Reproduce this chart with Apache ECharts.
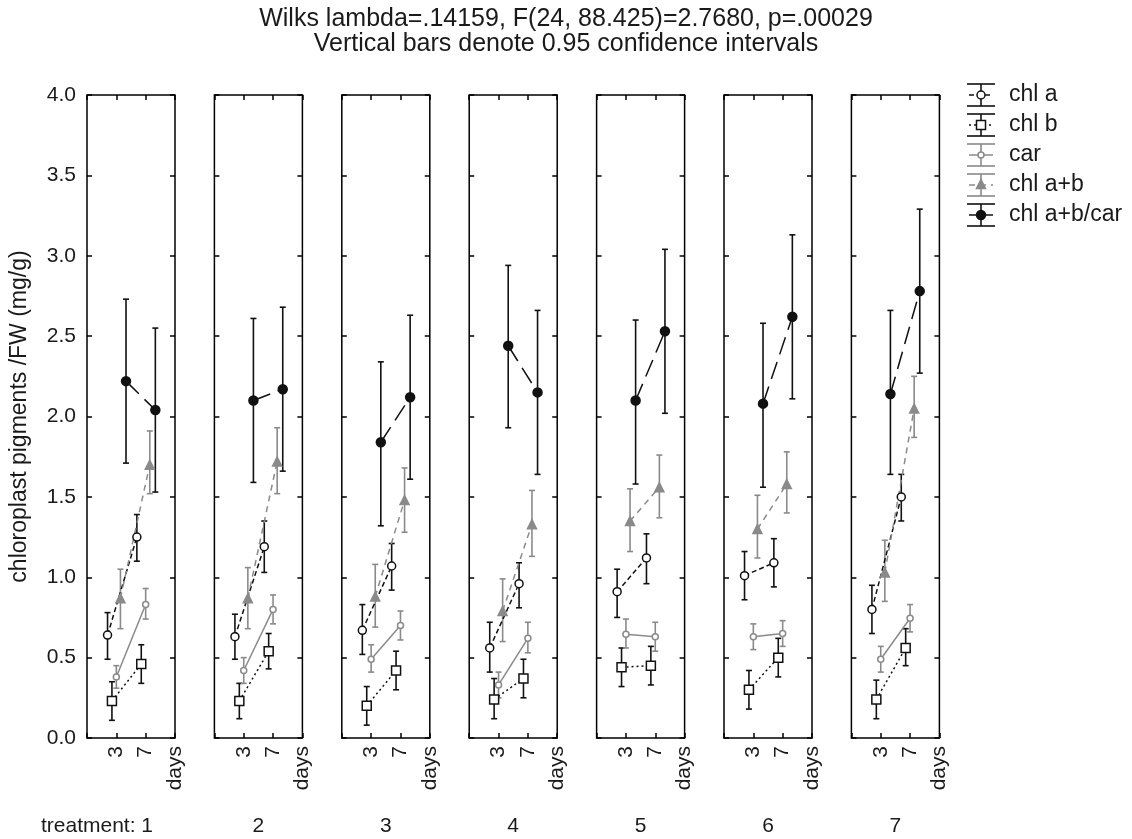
<!DOCTYPE html>
<html><head><meta charset="utf-8">
<script src="https://cdn.jsdelivr.net/npm/echarts@6/dist/echarts.min.js"></script>
<style>html,body{margin:0;padding:0;background:#fff}#c{width:1132px;height:839px}</style>
</head><body><div id="c"></div>
<script>
// ---------- data ----------
const treatments = ['1','2','3','4','5','6','7'];
const dayLabels = ['3','7'];
const seriesNames = ['chl a','chl b','car','chl a+b','chl a+b/car'];
const titleLine1 = 'Wilks lambda=.14159, F(24, 88.425)=2.7680, p=.00029';
const titleLine2 = 'Vertical bars denote 0.95 confidence intervals';
const yTitle = 'chloroplast pigments /FW (mg/g)';

// means per treatment: [day 3, day 7]
const chlA     = [[0.64,1.25],[0.63,1.19],[0.67,1.07],[0.56,0.96],[0.91,1.12],[1.01,1.09],[0.80,1.50]];
const chlALow  = [[0.49,1.10],[0.49,1.03],[0.52,0.92],[0.41,0.81],[0.75,0.96],[0.86,0.94],[0.65,1.35]];
const chlAHigh = [[0.78,1.39],[0.77,1.35],[0.83,1.21],[0.72,1.09],[1.05,1.27],[1.16,1.24],[0.95,1.64]];

const chlB     = [[0.23,0.46],[0.23,0.54],[0.20,0.42],[0.24,0.37],[0.44,0.45],[0.30,0.50],[0.24,0.56]];
const chlBLow  = [[0.11,0.34],[0.12,0.43],[0.08,0.30],[0.12,0.25],[0.32,0.33],[0.18,0.38],[0.12,0.45]];
const chlBHigh = [[0.35,0.58],[0.34,0.65],[0.32,0.54],[0.37,0.49],[0.56,0.57],[0.42,0.62],[0.36,0.68]];

const car      = [[0.38,0.83],[0.42,0.80],[0.49,0.70],[0.33,0.62],[0.645,0.63],[0.63,0.65],[0.49,0.745]];
const carLow   = [[0.31,0.74],[0.34,0.71],[0.41,0.61],[0.25,0.53],[0.56,0.54],[0.55,0.57],[0.41,0.66]];
const carHigh  = [[0.45,0.93],[0.50,0.89],[0.58,0.79],[0.41,0.72],[0.74,0.72],[0.71,0.73],[0.57,0.83]];

const chlAB     = [[0.87,1.70],[0.87,1.72],[0.88,1.48],[0.79,1.33],[1.35,1.56],[1.30,1.58],[1.03,2.05]];
const chlABLow  = [[0.68,1.52],[0.68,1.52],[0.69,1.28],[0.60,1.13],[1.16,1.37],[1.12,1.40],[0.85,1.87]];
const chlABHigh = [[1.05,1.91],[1.06,1.93],[1.08,1.68],[0.99,1.54],[1.55,1.76],[1.51,1.78],[1.23,2.25]];

const ratio     = [[2.22,2.04],[2.10,2.17],[1.84,2.12],[2.44,2.15],[2.10,2.53],[2.08,2.62],[2.14,2.78]];
const ratioLow  = [[1.71,1.53],[1.59,1.66],[1.32,1.61],[1.93,1.64],[1.58,2.02],[1.56,2.11],[1.64,2.27]];
const ratioHigh = [[2.73,2.55],[2.61,2.68],[2.34,2.63],[2.94,2.66],[2.60,3.04],[2.58,3.13],[2.66,3.29]];

// ---------- presentation ----------
const means = [chlA, chlB, car, chlAB, ratio];
const lows  = [chlALow, chlBLow, carLow, chlABLow, ratioLow];
const highs = [chlAHigh, chlBHigh, carHigh, chlABHigh, ratioHigh];

const FONT = '"Liberation Sans", Arial, sans-serif';
const BLACK = '#111', GRAY = '#8a8a8a', TXT = '#1a1a1a';
const styles = [
  {color:BLACK, dash:[5,3], symbol:'circle', size:8, fill:'#fff'},
  {color:BLACK, dash:[2,3], symbol:'rect', size:9, fill:'#fff'},
  {color:GRAY, dash:'solid', symbol:'circle', size:6, fill:'#fff'},
  {color:GRAY, dash:[6,5], symbol:'triangle', size:9, fill:GRAY},
  {color:BLACK, dash:[18,8], symbol:'circle', size:9, fill:BLACK}
];
const offsets = [-0.3, -0.15, 0, 0.14, 0.33];

const P_LEFT = 87, P_STEP = 127.4, P_W = 88, P_TOP = 95, P_H = 643;
const tick = (inside) => ({show:true, inside:inside, length:5, lineStyle:{color:'#000', width:1.5}});
const noLine = () => ({show:false, onZero:false});

const grid = [], xAxis = [], yAxis = [], series = [];
treatments.forEach((t, i) => {
  grid.push({left: P_LEFT + i*P_STEP, top: P_TOP, width: P_W, height: P_H,
    show: true, borderColor: '#000', borderWidth: 1.5, backgroundColor: 'transparent'});
  // x axes: [0] bottom labels, [1] bottom ticks (top axis moved to bottom edge, ticks point up), [2] top ticks
  xAxis.push({gridIndex:i, type:'value', min:0, max:3, interval:1, position:'bottom',
    axisLine: noLine(), splitLine:{show:false}, axisTick:{show:false},
    axisLabel:{show:true, rotate:90, margin:8, fontSize:21, color:TXT, fontFamily:FONT,
      showMinLabel:true, showMaxLabel:true,
      formatter: v => (v>=1 && v<=2) ? dayLabels[v-1] : (v===3 ? 'days' : '')}});
  xAxis.push({gridIndex:i, type:'value', min:0, max:3, interval:1, position:'top', offset: -P_H,
    axisLine: noLine(), splitLine:{show:false}, axisTick: tick(false), axisLabel:{show:false}});
  xAxis.push({gridIndex:i, type:'value', min:0, max:3, interval:1, position:'top',
    axisLine: noLine(), splitLine:{show:false}, axisTick: tick(true), axisLabel:{show:false}});
  // y axes: [0] left labels, [1] left ticks (right axis moved to left edge, ticks point right), [2] right ticks
  yAxis.push({gridIndex:i, type:'value', min:0, max:4, interval:0.5, position:'left',
    axisLine: noLine(), splitLine:{show:false}, axisTick:{show:false},
    axisLabel:{show: i===0, fontSize:21, color:TXT, margin:11, fontFamily:FONT, formatter: v => v.toFixed(1)},
    name: i===0 ? yTitle : '', nameLocation:'middle', nameRotate:90, nameGap:56,
    nameTextStyle:{fontSize:23, color:TXT, fontFamily:FONT}});
  yAxis.push({gridIndex:i, type:'value', min:0, max:4, interval:0.5, position:'right', offset: -P_W,
    axisLine: noLine(), splitLine:{show:false}, axisTick: tick(false), axisLabel:{show:false}});
  yAxis.push({gridIndex:i, type:'value', min:0, max:4, interval:0.5, position:'right',
    axisLine: noLine(), splitLine:{show:false}, axisTick: tick(true), axisLabel:{show:false}});

  means.forEach((m, s) => {
    const st = styles[s];
    const errData = dayLabels.map((d, k) => [k + 1 + offsets[s], lows[s][i][k], highs[s][i][k]]);
    series.push({
      type:'custom', name: seriesNames[s], xAxisIndex: 3*i, yAxisIndex: 3*i, z: 2,
      data: errData, encode:{x:0, y:[1,2]}, silent:true,
      renderItem: (params, api) => {
        const x = api.value(0);
        const p1 = api.coord([x, api.value(1)]);
        const p2 = api.coord([x, api.value(2)]);
        const c = 3;
        const ls = {stroke: st.color, lineWidth: 1.6};
        return {type:'group', children:[
          {type:'line', shape:{x1:p1[0], y1:p1[1], x2:p2[0], y2:p2[1]}, style: ls},
          {type:'line', shape:{x1:p1[0]-c, y1:p1[1], x2:p1[0]+c, y2:p1[1]}, style: ls},
          {type:'line', shape:{x1:p2[0]-c, y1:p2[1], x2:p2[0]+c, y2:p2[1]}, style: ls}
        ]};
      }
    });
    series.push({
      type:'line', name: seriesNames[s], xAxisIndex: 3*i, yAxisIndex: 3*i, z: 3,
      data: dayLabels.map((d, k) => [k + 1 + offsets[s], m[i][k]]),
      symbol: st.symbol, symbolSize: st.size, showSymbol: true, silent:true,
      lineStyle:{color: st.color, width: 1.5, type: st.dash},
      itemStyle:{color: st.fill, borderColor: st.color, borderWidth: 1.5}
    });
  });
});

// legend drawn as graphic (error-bar style icons)
const legendChildren = [];
seriesNames.forEach((n, k) => {
  const st = styles[k];
  const cy = 95 + 30*k, cx = 981;
  const ls = {stroke: st.color, lineWidth: 1.6};
  legendChildren.push({type:'line', shape:{x1:cx-14, y1:cy-11, x2:cx+14, y2:cy-11}, style: ls});
  legendChildren.push({type:'line', shape:{x1:cx-14, y1:cy+11, x2:cx+14, y2:cy+11}, style: ls});
  legendChildren.push({type:'line', shape:{x1:cx, y1:cy-11, x2:cx, y2:cy+11}, style: ls});
  legendChildren.push({type:'line', shape:{x1:cx-12, y1:cy, x2:cx+12, y2:cy},
    style:{stroke: st.color, lineWidth: 1.5, lineDash: st.dash === 'solid' ? null : (k===4 ? null : st.dash)}});
  const r = st.size/2;
  let mk;
  if (st.symbol === 'circle') mk = {type:'circle', shape:{cx:cx, cy:cy, r:r}};
  else if (st.symbol === 'rect') mk = {type:'rect', shape:{x:cx-r, y:cy-r, width:2*r, height:2*r}};
  else mk = {type:'polygon', shape:{points:[[cx, cy-r-1],[cx+r, cy+r-1],[cx-r, cy+r-1]]}};
  mk.style = {fill: st.fill, stroke: st.color, lineWidth: 1.5};
  legendChildren.push(mk);
  legendChildren.push({type:'text', x: 1009, y: cy, style:{text: n, fontSize: 23, fill: TXT,
    fontFamily: FONT, verticalAlign:'middle', textAlign:'left'}});
});

// treatment labels under panels
const labelChildren = treatments.map((t, i) => {
  const cx = P_LEFT + i*P_STEP + P_W/2;
  return i === 0
    ? {type:'text', x: cx + 22, y: 826, style:{text: 'treatment: ' + t, fontSize: 21, fill: TXT, fontFamily: FONT, textAlign:'right', verticalAlign:'middle'}}
    : {type:'text', x: cx, y: 826, style:{text: t, fontSize: 21, fill: TXT, fontFamily: FONT, textAlign:'center', verticalAlign:'middle'}};
});

const option = {
  animation: false,
  backgroundColor: '#fff',
  textStyle: {fontFamily: FONT},
  title: [
    {text: titleLine1, left: 'center', top: 2, textStyle:{fontSize: 25, fontWeight:'normal', color: TXT, fontFamily: FONT}},
    {text: titleLine2, left: 'center', top: 27, textStyle:{fontSize: 25, fontWeight:'normal', color: TXT, fontFamily: FONT}}
  ],
  grid, xAxis, yAxis, series,
  graphic: [{type:'group', children: legendChildren}, {type:'group', children: labelChildren}]
};

const chart = echarts.init(document.getElementById('c'), null, {renderer:'canvas'});
chart.setOption(option);
</script>
</body></html>
